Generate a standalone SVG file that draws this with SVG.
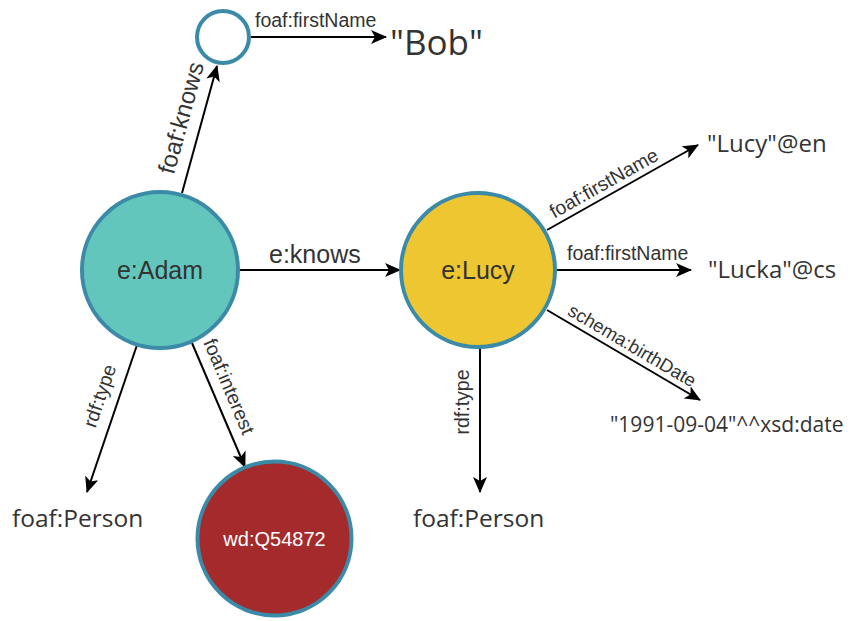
<svg xmlns="http://www.w3.org/2000/svg" width="852" height="621" viewBox="0 0 852 621">
  <defs>
    <marker id="arrow" viewBox="0 0 16 14" refX="15" refY="7" markerWidth="16" markerHeight="14" markerUnits="userSpaceOnUse" orient="auto">
      <path d="M0,0 L16,7 L0,14 L4,7 Z" fill="#000"/>
    </marker>
    <style>
      .node { stroke: #3b8aa8; stroke-width: 4; }
      .edge { stroke: #000; stroke-width: 2; fill: none; marker-end: url(#arrow); }
      .lbl { font-family: "Liberation Sans", Arial, sans-serif; fill: #333; }
      .lit { font-family: "Open Sans", "Noto Sans", sans-serif; fill: #333; }
      .small { font-size: 19.5px; }
    </style>
  </defs>
  <rect width="852" height="621" fill="#fff"/>

  <!-- connectors -->
  <g id="edges">
    <line class="edge" x1="182" y1="193" x2="217" y2="66"/>
    <line class="edge" x1="251" y1="37" x2="386" y2="37"/>
    <line class="edge" x1="240" y1="270" x2="400" y2="270"/>
    <line class="edge" x1="547" y1="230" x2="698" y2="145"/>
    <line class="edge" x1="557" y1="270" x2="691" y2="270"/>
    <line class="edge" x1="547" y1="310" x2="700" y2="400"/>
    <line class="edge" x1="137" y1="345" x2="87" y2="492"/>
    <line class="edge" x1="192" y1="343" x2="245" y2="467"/>
    <line class="edge" x1="480" y1="348" x2="480" y2="492"/>

    <text class="lbl" font-size="24" text-anchor="middle" transform="translate(189,120) rotate(-74.7)">foaf:knows</text>
    <text class="lbl small" x="255" y="27">foaf:firstName</text>
    <text class="lbl" font-size="25" x="269" y="263">e:knows</text>
    <text class="lbl small" text-anchor="middle" transform="translate(607,189) rotate(-29.4)">foaf:firstName</text>
    <text class="lbl small" x="567" y="260">foaf:firstName</text>
    <text class="lbl" font-size="18.5" text-anchor="middle" transform="translate(629,351) rotate(30.5)">schema:birthDate</text>
    <text class="lbl small" text-anchor="middle" transform="translate(106,398) rotate(-71.2)">rdf:type</text>
    <text class="lbl small" text-anchor="middle" transform="translate(223,389) rotate(66.9)">foaf:interest</text>
    <text class="lbl small" text-anchor="middle" transform="translate(469,402) rotate(-90)">rdf:type</text>
  </g>

  <!-- resources -->
  <g id="node-adam">
    <circle class="node" cx="160" cy="270" r="78" fill="#63c6bc"/>
    <text class="lbl" font-size="25" x="160" y="279" text-anchor="middle">e:Adam</text>
  </g>
  <g id="node-blank">
    <circle class="node" cx="223" cy="37" r="26" fill="#fff"/>
  </g>
  <g id="node-lucy">
    <circle class="node" cx="478" cy="270" r="77" fill="#eec632"/>
    <text class="lbl" font-size="25" x="478" y="279" text-anchor="middle">e:Lucy</text>
  </g>
  <g id="node-q54872">
    <circle class="node" cx="274.5" cy="538.5" r="77" fill="#a42a2b"/>
    <text class="lbl" font-size="20" x="274.5" y="546" text-anchor="middle" fill="#fff" style="fill:#fff">wd:Q54872</text>
  </g>

  <!-- literals and classes -->
  <g id="lit-bob"><text class="lit" font-size="35" x="390" y="55">"Bob"</text></g>
  <g id="lit-lucy-en"><text class="lit" font-size="24" x="707" y="152">"Lucy"@en</text></g>
  <g id="lit-lucka-cs"><text class="lit" font-size="24" x="708" y="278">"Lucka"@cs</text></g>
  <g id="lit-birthdate"><text class="lit" font-size="21" x="610" y="432">"1991-09-04"^^xsd:date</text></g>
  <g id="class-person-1"><text class="lit" font-size="24.5" x="12" y="527">foaf:Person</text></g>
  <g id="class-person-2"><text class="lit" font-size="24.5" x="413" y="527">foaf:Person</text></g>
</svg>
